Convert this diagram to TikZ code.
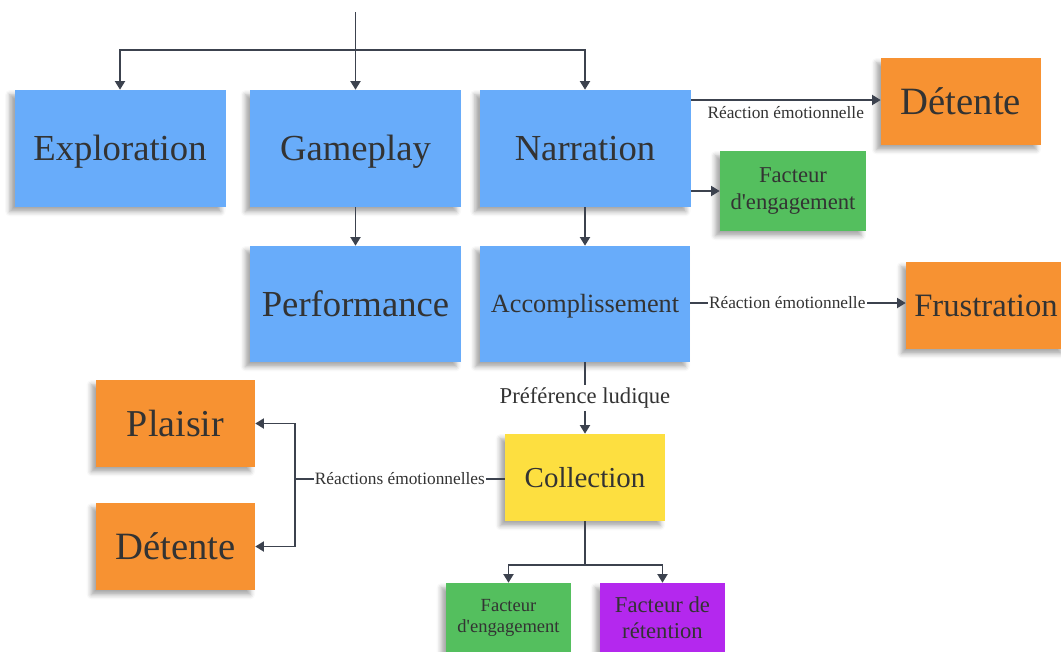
\documentclass[tikz,border=0pt]{standalone}
\usepackage{fontspec}
\setmainfont{Liberation Serif}[Ligatures=TeXOff]
\usetikzlibrary{arrows.meta,shadows.blur}
\definecolor{noteblue}{RGB}{104,172,250}
\definecolor{noteorange}{RGB}{247,146,50}
\definecolor{notegreen}{RGB}{84,191,94}
\definecolor{noteyellow}{RGB}{253,223,64}
\definecolor{notepurple}{RGB}{180,40,238}
\definecolor{ink}{RGB}{51,51,51}
\definecolor{wire}{RGB}{60,66,78}
\newcommand{\fs}[1]{\fontsize{#1}{1.15\dimexpr#1\relax}\selectfont}
\tikzset{
  note/.style={rectangle, inner sep=2pt, text=ink, align=center,
    blur shadow={shadow xshift=-3.5pt, shadow yshift=-3.5pt, shadow opacity=35, shadow blur radius=3.5pt}},
  % single-line note text: size in pt, caps centred on the note
  sz/.code={%
    \pgfmathsetmacro\noteht{0.9*#1}%
    \pgfmathsetmacro\notedp{0.24*#1}%
    \edef\notesetup{\noexpand\tikzset{font=\noexpand\fs{#1pt},
      text height=\noteht pt, text depth=\notedp pt}}%
    \notesetup},
  bignote/.style={note, fill=noteblue, minimum width=211*0.75pt, minimum height=117*0.75pt},
  smallnote/.style={note, minimum width=160*0.75pt, minimum height=87*0.75pt},
  wirestyle/.style={draw=wire, line width=1.4pt},
  arr/.style={wirestyle, -{Triangle[length=6.5pt,width=7.5pt]}},
  lbl/.style={text=ink, fill=white, inner sep=1pt, font=\fs{13pt}}
}
\begin{document}
\begin{tikzpicture}[x=0.75pt,y=-0.75pt]
\useasboundingbox (0,0) rectangle (1061,651);

% top row
\node[bignote, sz=27.5] (expl) at (120,148.5) {Exploration};
\node[bignote, sz=27.5] (game) at (355.5,148.5) {Gameplay};
\node[bignote, sz=27.5] (narr) at (585,148.5) {Narration};
\node[smallnote, fill=noteorange, sz=29] (det1) at (961,101.5) {Détente};
\node[note, fill=notegreen, minimum width=146*0.75pt, minimum height=80*0.75pt, font=\fs{17pt}] (eng1) at (793,191) {Facteur\\d'engagement};

% second row
\node[bignote, minimum height=116*0.75pt, sz=27.5] (perf) at (355.5,304) {Performance};
\node[bignote, minimum width=210*0.75pt, minimum height=116*0.75pt, sz=19.7] (acc) at (585,304) {Accomplissement};
\node[smallnote, fill=noteorange, sz=24.5] (frus) at (986,305.5) {Frustration};

% lower part
\node[smallnote, fill=noteorange, minimum width=159*0.75pt, sz=28.5] (plai) at (175.5,423.5) {Plaisir};
\node[smallnote, fill=noteorange, minimum width=159*0.75pt, sz=29] (det2) at (175.5,546.5) {Détente};
\node[smallnote, fill=noteyellow, sz=21.7] (coll) at (585,477.5) {Collection};
\node[note, fill=notegreen, minimum width=125*0.75pt, minimum height=70*0.75pt, font=\fs{13.9pt}] (eng2) at (508.5,618) {Facteur\\d'engagement};
\node[note, fill=notepurple, minimum width=125*0.75pt, minimum height=70*0.75pt, font=\fs{17pt}] (ret) at (662.5,618) {Facteur de\\rétention};

% connectors
\coordinate (src) at (355.5,12);
\coordinate (hub) at (355.5,50);
\draw[arr] (src) -- (game);
\draw[arr] (hub) -| (expl);
\draw[arr] (hub) -| (narr);

\draw[arr] (narr.east |- 0,100) -- node[lbl, below=3.5pt, fill=none] {Réaction émotionnelle} (det1.west |- 0,100);
\draw[arr] (narr.east |- eng1.west) -- (eng1.west);

\draw[arr] (game) -- (perf);
\draw[arr] (narr) -- (acc);

\draw[arr] (acc.east |- 0,303) -- node[lbl, pos=0.45] {Réaction émotionnelle} (frus.west |- 0,303);

\draw[arr] (acc) -- node[lbl, font=\fs{17pt}, inner sep=2pt] {Préférence ludique} (coll);

\coordinate (split) at (295,479);
\draw[wirestyle] (coll.west |- split) -- node[lbl] {Réactions émotionnelles} (split);
\draw[arr] (split) |- (plai);
\draw[arr] (split) |- (det2);

\coordinate (fork) at (585,565);
\draw[wirestyle] (coll) -- (fork);
\draw[arr] (fork) -| (eng2);
\draw[arr] (fork) -| (ret);
\end{tikzpicture}
\end{document}
